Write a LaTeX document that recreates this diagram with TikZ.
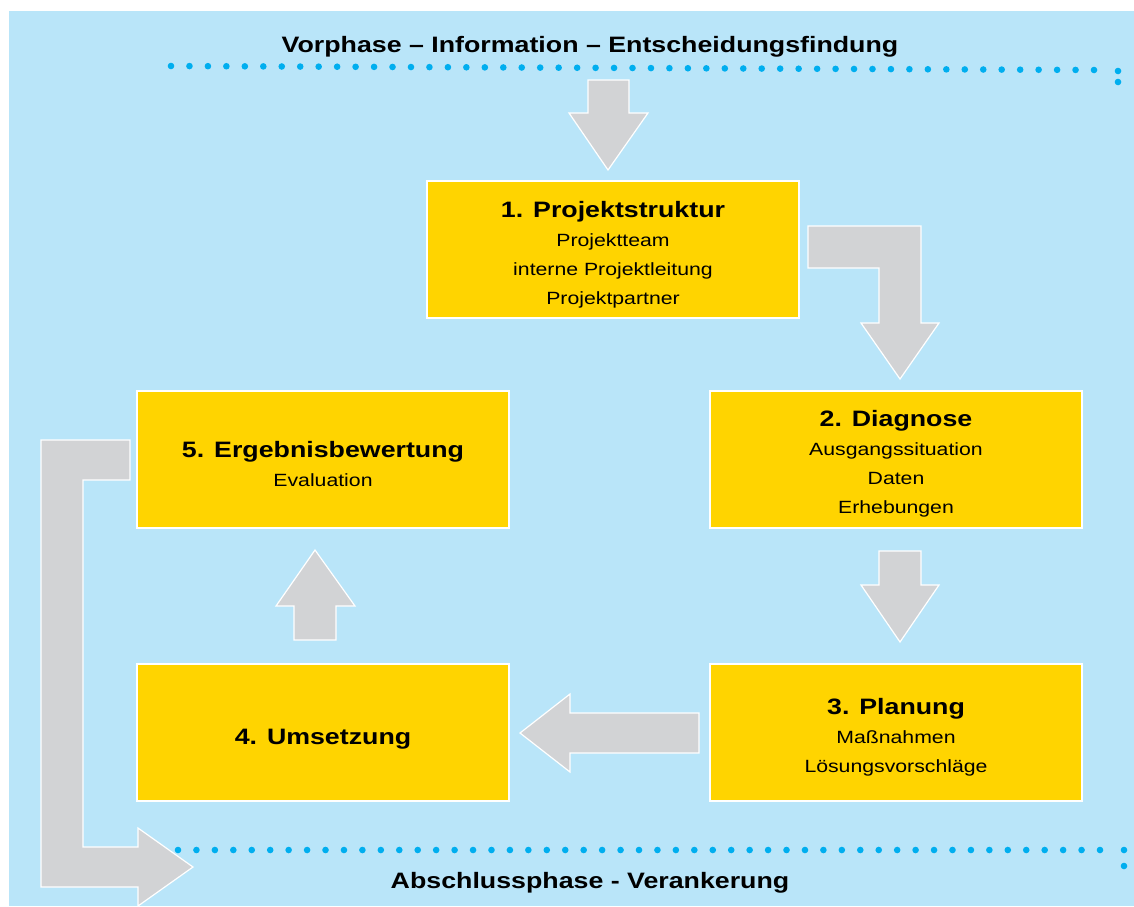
\documentclass[tikz,border=0pt]{standalone}
\usepackage{fontspec}
\setmainfont{Liberation Sans}[FakeStretch=1.2]
\definecolor{bgblue}{RGB}{185,229,249}
\definecolor{dotblue}{RGB}{0,174,239}
\definecolor{boxyellow}{RGB}{255,212,0}
\definecolor{arrgray}{RGB}{210,211,213}
\newcommand{\ttl}[1]{{\fontsize{22.3}{29}\selectfont\bfseries #1}}
\begin{document}
\begin{tikzpicture}[x=1pt,y=-1pt,
  stagebox/.style={rectangle,fill=boxyellow,draw=white,line width=1.8pt,
    minimum width=372pt,minimum height=137pt,inner sep=0pt},
  stagetext/.style={inner sep=0pt,align=center,
    font=\fontsize{17.7}{29}\selectfont},
  blockarrow/.style={fill=arrgray,draw=white,line width=1.2pt,line join=miter},
  phase/.style={inner sep=0pt,font=\fontsize{22.3}{26}\selectfont\bfseries},
  dot/.style={fill=dotblue}]
\useasboundingbox (0,0) rectangle (1134,906);
\fill[white] (0,0) rectangle (1134,906);
\fill[bgblue] (9,11) rectangle (1134,906);

% phase labels
\node[phase] (vor) at (590,47) {Vorphase – Information – Entscheidungsfindung};
\node[phase] (ab) at (590,883) {Abschlussphase - Verankerung};

% dotted lines
\foreach \i in {0,...,50} \fill[dot] ({171+\i*18.46},{66+\i*0.08}) circle (3.3);
\fill[dot] (1118,71) circle (3.3);
\fill[dot] (1118,82) circle (3.3);
\foreach \i in {0,...,50} \fill[dot] ({178+\i*18.44},850) circle (3.3);
\fill[dot] (1124,850) circle (3.3);
\fill[dot] (1124,866) circle (3.3);

% block arrows
\draw[blockarrow] (588,80) -- (629,80) -- (629,113) -- (648,113) -- (608,170) -- (569,113) -- (588,113) -- cycle;
\draw[blockarrow] (808,226) -- (921,226) -- (921,323) -- (939,323) -- (900,379) -- (861,323) -- (879,323) -- (879,268) -- (808,268) -- cycle;
\draw[blockarrow] (879,551) -- (921,551) -- (921,585) -- (939,585) -- (900,642) -- (861,585) -- (879,585) -- cycle;
\draw[blockarrow] (699,713) -- (570,713) -- (570,694) -- (520,733) -- (570,772) -- (570,753) -- (699,753) -- cycle;
\draw[blockarrow] (294,640) -- (294,606) -- (276,606) -- (315,550) -- (355,606) -- (336,606) -- (336,640) -- cycle;
\draw[blockarrow] (130,440) -- (41,440) -- (41,887) -- (138,887) -- (138,906) -- (193,867) -- (138,828) -- (138,847) -- (83,847) -- (83,480) -- (130,480) -- cycle;

% stage boxes
\node[stagebox] (b1) at (613,249.5) {};
\node[stagebox] (b2) at (896,459.5) {};
\node[stagebox] (b3) at (896,732.5) {};
\node[stagebox] (b4) at (323,732.5) {};
\node[stagebox] (b5) at (323,459.5) {};

\node[stagetext] (t1) at ([yshift=-5pt]b1.center) {\ttl{1. Projektstruktur}\\Projektteam\\interne Projektleitung\\Projektpartner};
\node[stagetext] (t2) at ([yshift=-4.5pt]b2.center) {\ttl{2. Diagnose}\\Ausgangssituation\\Daten\\Erhebungen};
\node[stagetext] (t3) at ([yshift=-5pt]b3.center) {\ttl{3. Planung}\\Maßnahmen\\Lösungsvorschläge};
\node[stagetext] (t4) at ([yshift=-6.5pt]b4.center) {\ttl{4. Umsetzung}};
\node[stagetext] (t5) at ([yshift=-4.5pt]b5.center) {\ttl{5. Ergebnisbewertung}\\Evaluation};
\end{tikzpicture}
\end{document}
